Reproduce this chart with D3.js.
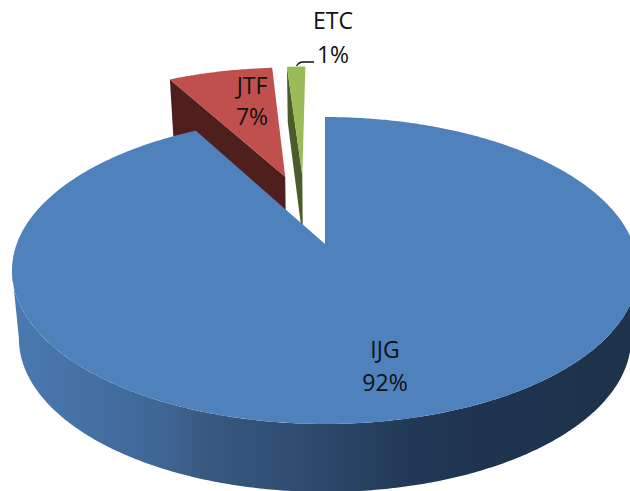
<!DOCTYPE html>
<html>
<head>
<meta charset="utf-8">
<script src="https://cdnjs.cloudflare.com/ajax/libs/d3/7.8.5/d3.min.js"></script>
<style>
    html, body { margin: 0; padding: 0; background: #fff; }
    svg { display: block; }
    text { font-family: "Open Sans", sans-serif; font-size: 23px; fill: #111; text-anchor: middle; }
</style>
</head>
<body>
<div id="chart"></div>
<script>
const categories = ['IJG', 'JTF', 'ETC'];
// the labels show them rounded
const shares = [92, 6.8, 1.2];

const width = 630,
    height = 491;

const svg = d3.select('#chart')
    .append('svg')
    .attr('width', width)
    .attr('height', height);

// 3D look: unit circle in the pie plane, projected with some perspective
const originX = 325, originY = 244;
const scaleU = 308.3, scaleV = 148.9, persp = 0.1726;

function project(u, v, z) {
    const w = 1 + persp * v;
    const shrink = z ? 0.978 : 1;
    // wall is a bit shorter towards the back
    const depth = 68 - 48 * Math.max(0, w - 1);
    return [
        originX + shrink * scaleU * u / w,
        originY - scaleV * v / w + (z ? depth : 0)
    ];
}

const pie = d3.pie().sort(null).startAngle(0).endAngle(2 * Math.PI);
const arcs = pie(shares);

// how far each slice is pulled out of the pie
const explode = [[0, 0], [-0.14, 0.49], [-0.08, 0.5]];

const color = d3.scaleOrdinal().domain(categories).range(['#4f81bd', '#c0504d', '#9bbb59']);
const sideColor = d3.scaleOrdinal().domain(categories).range(['#2c4a6e', '#4f1f1d', '#4b5c2b']);

const line = d3.line();

function rimPoint(a, off, z) {
    return project(off[0] + Math.sin(a), off[1] + Math.cos(a), z);
}

function rim(a0, a1, off, z) {
    const n = Math.max(2, Math.ceil((a1 - a0) / 0.01));
    return d3.range(n + 1).map(function(i) {
        return rimPoint(a0 + (a1 - a0) * i / n, off, z);
    });
}

// horizontal gradient on the outer wall of the big slice
const defs = svg.append('defs');
const wallGradient = defs.append('linearGradient')
    .attr('id', 'wall')
    .attr('gradientUnits', 'userSpaceOnUse')
    .attr('x1', 12).attr('x2', 630).attr('y1', 0).attr('y2', 0);
[[0, '#4a7ab2'], [0.24, '#3f6796'], [0.31, '#39597f'], [0.47, '#2e4c70'], [0.63, '#233a58'], [0.75, '#1e3450'], [1, '#1e3249']]
    .forEach(function(s) {
        wallGradient.append('stop').attr('offset', s[0]).attr('stop-color', s[1]);
    });

const group = svg.append('g');

// small slices first, the big one covers their bottoms
[1, 2].forEach(function(i) {
    const d = arcs[i], off = explode[i], name = categories[i];
    const apex = project(off[0], off[1], false);
    const apexLow = project(off[0], off[1], true);
    const corner = rimPoint(d.startAngle, off, false);
    const cornerLow = rimPoint(d.startAngle, off, true);

    group.append('path')
        .attr('d', line([apex, corner, cornerLow, apexLow]) + 'Z')
        .attr('fill', sideColor(name));

    group.append('path')
        .attr('d', line([apex].concat(rim(d.startAngle, d.endAngle, off, false))) + 'Z')
        .attr('fill', color(name));
});

// big slice: wall then top
const big = arcs[0];
const wallFrom = 1.745, wallTo = 4.54;
group.append('path')
    .attr('d', line(rim(wallFrom, wallTo, explode[0], false)
        .concat(rim(wallFrom, wallTo, explode[0], true).reverse())) + 'Z')
    .attr('fill', 'url(#wall)');

group.append('path')
    .attr('d', line([project(0, 0, false)].concat(rim(big.startAngle, big.endAngle, explode[0], false))) + 'Z')
    .attr('fill', color(categories[0]));

// leader line for the smallest slice
svg.append('path')
    .attr('d', 'M296.5,66 Q299,62 303,62 L314,62')
    .attr('fill', 'none')
    .attr('stroke', '#111')
    .attr('stroke-width', 1.3);

// labels
const labelPos = [[385, 358, 391], [252, 94, 125], [333, 29, 63]];
categories.forEach(function(name, i) {
    svg.append('text').attr('x', labelPos[i][0]).attr('y', labelPos[i][1]).text(name);
    svg.append('text').attr('x', labelPos[i][0]).attr('y', labelPos[i][2]).text(Math.round(shares[i]) + '%');
});
</script>
</body>
</html>
